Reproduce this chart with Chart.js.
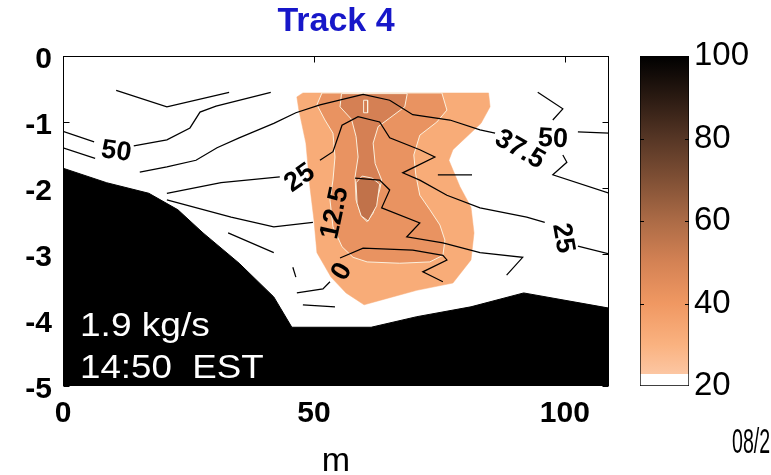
<!DOCTYPE html>
<html>
<head>
<meta charset="utf-8">
<script src="https://cdn.jsdelivr.net/npm/chart.js@4.4.1/dist/chart.umd.min.js"></script>
<style>
  html, body { margin: 0; padding: 0; background: #fff; }
  #wrap { position: relative; width: 771px; height: 475px; overflow: hidden; background: #fff; }
  canvas { position: absolute; top: 0; }
  #section { left: 0; }
  #scale { left: 620px; }
</style>
</head>
<body>
<div id="wrap">
  <canvas id="section" width="771" height="475"></canvas>
  <canvas id="scale" width="151" height="475"></canvas>
</div>
<script>
// ---- Track 4 cross-section: distance across (m) vs depth (m) ----
const FONT = '"Liberation Sans", Arial, Helvetica, sans-serif';

const titleText = 'Track 4';
const flowText = '1.9 kg/s';
const timeText = '14:50  EST';
const dateText = '08/2';

const xTickValues = [0, 50, 100];
const depthTickValues = [0, -1, -2, -3, -4, -5];
const colorTickValues = [20, 40, 60, 80, 100];

// Channel bottom profile [distance, depth]
const bottomProfile = [
  [0, -1.70], [8.7, -1.92], [17.1, -2.08], [22.9, -2.33], [27.9, -2.68],
  [35.1, -3.14], [42.0, -3.65], [45.6, -4.11], [61.4, -4.11], [70.5, -3.95],
  [81.3, -3.80], [91.8, -3.59], [108.8, -3.82]
];

// Filled concentration bands (closed outlines) [distance, depth]
const band30 = [
  [47.8, -0.56], [84.8, -0.56], [85.1, -0.77], [83.3, -1.02], [77.7, -1.42],
  [76.9, -1.58], [79.1, -1.98], [81.3, -2.29], [81.9, -2.68], [81.3, -3.09],
  [77.7, -3.44], [70.5, -3.55], [63.3, -3.70], [60.0, -3.77], [56.4, -3.59],
  [53.4, -3.35], [50.6, -2.98], [50.0, -2.48], [49.2, -1.98], [48.4, -1.32],
  [47.0, -0.82], [46.6, -0.62], [47.8, -0.56]
];
const band40 = [
  [51.6, -0.56], [50.6, -0.74], [52.2, -0.97], [53.8, -1.17], [54.2, -1.53],
  [53.8, -1.88], [53.2, -2.18], [53.8, -2.59], [55.6, -2.89], [57.8, -3.05],
  [60.6, -3.12], [67.1, -3.14], [73.1, -3.12], [75.7, -3.02], [76.1, -2.79],
  [75.1, -2.56], [73.1, -2.33], [71.1, -2.11], [70.3, -1.80], [69.9, -1.50],
  [71.1, -1.20], [74.5, -1.00], [76.5, -0.82], [75.5, -0.56], [51.6, -0.56]
];
const band50 = [
  [55.5, -0.57], [55.2, -0.77], [57.5, -0.96], [58.4, -1.22], [58.8, -1.53],
  [58.2, -1.83], [58.4, -2.18], [59.5, -2.43], [60.6, -2.51], [61.8, -2.38],
  [63.1, -2.03], [63.5, -1.88], [62.2, -1.63], [61.8, -1.32], [62.8, -1.07],
  [65.1, -0.94], [68.1, -0.77], [68.6, -0.57], [55.5, -0.57]
];
const band60 = [
  [58.4, -1.92], [59.6, -1.82], [61.6, -1.85], [63.1, -1.94], [62.5, -2.27],
  [60.8, -2.50], [59.4, -2.42], [58.6, -2.23], [58.4, -1.92]
];
const innerRing = [[59.9, -0.67], [60.7, -0.67], [60.7, -0.86], [59.9, -0.86], [59.9, -0.67]];

// Velocity contours, each a list of segments broken where the level label sits
const contour50West = [
  [[0, -1.14], [6.2, -1.30]],
  [[14.1, -1.36], [20.7, -1.27], [25.3, -1.09], [27.3, -0.85], [30.5, -0.76], [41.4, -0.55]]
];
const contour375 = [
  [[0, -1.39], [6.4, -1.55]],
  [[15.3, -1.76], [20.7, -1.68], [26.5, -1.58], [30.7, -1.39], [35.1, -1.24], [42.0, -1.02],
   [46.4, -0.86], [51.2, -0.74], [59.8, -0.58], [65.1, -0.67], [69.7, -0.89], [77.1, -0.97],
   [83.1, -1.12], [86.1, -1.17]]
];
const contour50East = [
  [[94.6, -0.55], [99.6, -0.80], [97.6, -0.97]],
  [[102.6, -1.15], [108.8, -1.17]]
];
const contour375East = [
  [[99.6, -1.50], [100.4, -1.61], [97.6, -1.80], [108.8, -2.08]]
];
const contour25 = [
  [[20.7, -2.08], [31.5, -1.92], [43.2, -1.83]],
  [[51.2, -1.58], [53.8, -1.45], [55.6, -1.05], [58.8, -0.92], [63.1, -1.00], [65.1, -1.24],
   [71.1, -1.42], [74.1, -1.53], [67.7, -1.77], [71.1, -1.88], [76.5, -2.11], [83.1, -2.30],
   [92.4, -2.44], [96.0, -2.52]],
  [[102.6, -2.88], [108.8, -3.00]]
];
const contour125 = [
  [[20.7, -2.18], [33.5, -2.44], [42.0, -2.59], [49.8, -2.52]],
  [[58.2, -1.85], [63.1, -1.88], [65.1, -2.03], [63.5, -2.30], [71.1, -2.53], [68.5, -2.74],
   [75.7, -2.83], [83.1, -2.98], [91.6, -3.05], [88.4, -3.32]]
];
const contour0 = [
  [[46.6, -3.59], [51.8, -3.53], [53.2, -3.42]],
  [[55.2, -3.06], [59.8, -2.91], [69.7, -2.94], [75.7, -3.02], [76.5, -3.09], [71.7, -3.27], [75.7, -3.42]]
];
const contourFragments = [
  [[10.6, -0.52], [20.7, -0.77], [33.1, -0.55]],
  [[32.9, -2.68], [42.0, -2.98]],
  [[47.8, -3.77], [54.2, -3.80]],
  [[45.8, -3.20], [46.4, -3.35]],
  [[74.7, -1.80], [81.5, -1.80]]
];

// Contour level labels: level, anchor (distance, depth), text angle in degrees
const contourLabels = [
  { level: 50, x: 10.6, depth: -1.45, angle: 8 },
  { level: 25, x: 47.2, depth: -1.85, angle: -35 },
  { level: 12.5, x: 54.2, depth: -2.38, angle: -78 },
  { level: 0, x: 55.6, depth: -3.27, angle: -60 },
  { level: 37.5, x: 91.0, depth: -1.42, angle: 30 },
  { level: 50, x: 97.6, depth: -1.26, angle: 3 },
  { level: 25, x: 99.6, depth: -2.76, angle: 80 }
];

// Colour scale for concentration (white below 23, then copper-like ramp to black)
const palette = [
  [20, '#ffffff'], [22.9, '#ffffff'], [23, 'rgb(252,198,162)'], [30, 'rgb(250,178,128)'],
  [40, 'rgb(240,152,98)'], [50, 'rgb(212,130,84)'], [60, 'rgb(172,107,70)'],
  [70, 'rgb(128,80,53)'], [80, 'rgb(86,54,37)'], [90, 'rgb(42,26,18)'], [100, 'rgb(0,0,0)']
];
const bandColors = { b30: 'rgb(248,172,120)', b40: 'rgb(233,147,97)', b50: 'rgb(213,128,84)', b60: 'rgb(193,114,74)' };
const contourWhite = 'rgba(252,244,228,0.95)';

const toPoints = pts => pts.map(p => ({ x: p[0], y: p[1] }));
const lineSet = (pts, extra) => Object.assign({
  data: toPoints(pts), pointRadius: 0, pointHoverRadius: 0, tension: 0,
  fill: false, borderWidth: 1, borderColor: '#000', backgroundColor: 'transparent'
}, extra);

const datasets = [];
datasets.push(lineSet(bottomProfile, { fill: 'start', backgroundColor: '#000', borderColor: '#000', order: 0 }));
[contour50West, contour375, contour50East, contour375East, contour25, contour125, contour0, contourFragments]
  .forEach(c => c.forEach(seg => datasets.push(lineSet(seg, { borderColor: '#000', borderWidth: 1.25, order: 1 }))));
datasets.push(lineSet(innerRing, { borderColor: contourWhite, borderWidth: 1, order: 2 }));
datasets.push(lineSet(band60, { fill: 'shape', backgroundColor: bandColors.b60, borderColor: contourWhite, borderWidth: 1, order: 3 }));
datasets.push(lineSet(band50, { fill: 'shape', backgroundColor: bandColors.b50, borderColor: contourWhite, borderWidth: 1, order: 4 }));
datasets.push(lineSet(band40, { fill: 'shape', backgroundColor: bandColors.b40, borderColor: contourWhite, borderWidth: 1, order: 5 }));
datasets.push(lineSet(band30, { fill: 'shape', backgroundColor: bandColors.b30, borderColor: bandColors.b30, borderWidth: 0.5, order: 6 }));

function seg(ctx, x1, y1, x2, y2) {
  ctx.beginPath(); ctx.moveTo(x1, y1); ctx.lineTo(x2, y2); ctx.stroke();
}

// Text drawn with a horizontal stretch factor
function stretchedText(ctx, text, x, y, sx) {
  ctx.save();
  ctx.translate(x, y);
  ctx.scale(sx, 1);
  ctx.fillText(text, 0, 0);
  ctx.restore();
}

// Labels, frame, inward ticks and captions for the section plot
const sectionDecor = {
  id: 'sectionDecor',
  afterDatasetsDraw(chart) {
    const { ctx, chartArea: a, scales: { x, y } } = chart;
    ctx.save();
    ctx.fillStyle = '#000';
    ctx.font = 'bold 27px ' + FONT;
    ctx.textAlign = 'center';
    ctx.textBaseline = 'middle';
    contourLabels.forEach(l => {
      ctx.save();
      ctx.translate(x.getPixelForValue(l.x), y.getPixelForValue(l.depth));
      ctx.rotate(l.angle * Math.PI / 180);
      ctx.fillText(String(l.level), 0, 0);
      ctx.restore();
    });
    ctx.fillStyle = '#fff';
    ctx.font = '34px ' + FONT;
    ctx.textAlign = 'left';
    ctx.textBaseline = 'alphabetic';
    stretchedText(ctx, flowText, a.left + 17, a.bottom - 50, 1.09);
    stretchedText(ctx, timeText, a.left + 17, a.bottom - 8, 1.08);
    ctx.restore();
  },
  afterDraw(chart) {
    const { ctx, chartArea: a, scales: { x, y } } = chart;
    ctx.save();
    ctx.strokeStyle = '#000';
    ctx.lineWidth = 1;
    const L = Math.round(a.left) + 0.5, R = Math.round(a.right) - 0.5;
    const T = Math.round(a.top) + 0.5, B = Math.round(a.bottom) - 0.5;
    ctx.strokeRect(L, T, R - L, B - T);
    x.ticks.forEach(t => {
      const px = Math.round(x.getPixelForValue(t.value)) + 0.5;
      seg(ctx, px, T, px, T + 6);
      seg(ctx, px, B, px, B - 6);
    });
    y.ticks.forEach(t => {
      const py = Math.round(y.getPixelForValue(t.value)) + 0.5;
      seg(ctx, L, py, L + 6, py);
      seg(ctx, R, py, R - 6, py);
    });
    ctx.fillStyle = '#1717c9';
    ctx.font = 'bold 34px ' + FONT;
    ctx.textAlign = 'center';
    ctx.textBaseline = 'middle';
    ctx.fillText(titleText, (a.left + a.right) / 2, 22);
    ctx.fillStyle = '#000';
    ctx.font = '35px ' + FONT;
    ctx.textAlign = 'left';
    ctx.textBaseline = 'alphabetic';
    stretchedText(ctx, dateText, 732, 453, 0.56);
    ctx.restore();
  }
};

new Chart(document.getElementById('section'), {
  type: 'line',
  data: { datasets },
  options: {
    responsive: false,
    animation: false,
    events: [],
    layout: { padding: { left: 0, top: 56, right: 162, bottom: 0 } },
    plugins: { legend: { display: false }, tooltip: { enabled: false }, title: { display: false } },
    scales: {
      x: {
        type: 'linear', min: 0, max: 108.8,
        afterBuildTicks: s => { s.ticks = xTickValues.map(v => ({ value: v })); },
        afterFit: s => { s.height = 89; },
        grid: { display: false, drawTicks: false },
        border: { display: false },
        ticks: { callback: v => String(v), font: { family: FONT, size: 30, weight: 'bold' }, color: '#000', padding: 10, maxRotation: 0, autoSkip: false },
        title: { display: true, text: 'm', font: { family: FONT, size: 34, lineHeight: 0.8 }, color: '#000', padding: 0 }
      },
      y: {
        type: 'linear', min: -5, max: 0,
        afterBuildTicks: s => { s.ticks = depthTickValues.map(v => ({ value: v })); },
        afterFit: s => { s.width = 63; },
        grid: { display: false, drawTicks: false },
        border: { display: false },
        ticks: { callback: v => String(v), font: { family: FONT, size: 30, weight: 'bold' }, color: '#000', padding: 11, labelOffset: 4, autoSkip: false }
      }
    }
  },
  plugins: [sectionDecor]
});

// Colour bar: one floating bar spanning the concentration range
const scaleTicks = {
  id: 'scaleTicks',
  afterDraw(chart) {
    const { ctx, chartArea: a, scales: { y } } = chart;
    ctx.save();
    ctx.strokeStyle = '#000';
    ctx.lineWidth = 1;
    colorTickValues.slice(1, -1).forEach(v => {
      const py = Math.round(y.getPixelForValue(v)) + 0.5;
      seg(ctx, a.left, py, a.left + 4, py);
      seg(ctx, a.right, py, a.right - 4, py);
    });
    ctx.restore();
  }
};

new Chart(document.getElementById('scale'), {
  type: 'bar',
  data: {
    labels: [''],
    datasets: [{
      data: [[colorTickValues[0], colorTickValues[colorTickValues.length - 1]]],
      backgroundColor: c => {
        const chart = c.chart;
        if (!chart.chartArea) return '#fff';
        const ys = chart.scales.y;
        const g = chart.ctx.createLinearGradient(0, ys.getPixelForValue(20), 0, ys.getPixelForValue(100));
        palette.forEach(([v, col]) => g.addColorStop((v - 20) / 80, col));
        return g;
      },
      borderColor: '#000',
      borderWidth: 1,
      borderSkipped: false,
      barPercentage: 1,
      categoryPercentage: 1
    }]
  },
  options: {
    responsive: false,
    animation: false,
    events: [],
    layout: { padding: { left: 20, top: 56, right: 0, bottom: 89 } },
    plugins: { legend: { display: false }, tooltip: { enabled: false } },
    scales: {
      x: { display: false },
      y: {
        position: 'right', min: 20, max: 100,
        afterBuildTicks: s => { s.ticks = colorTickValues.map(v => ({ value: v })); },
        afterFit: s => { s.width = 82; },
        grid: { display: false, drawTicks: false },
        border: { display: false },
        ticks: { callback: v => String(v), font: { family: FONT, size: 33 }, color: '#000', padding: 5, autoSkip: false }
      }
    }
  },
  plugins: [scaleTicks]
});
</script>
</body>
</html>
